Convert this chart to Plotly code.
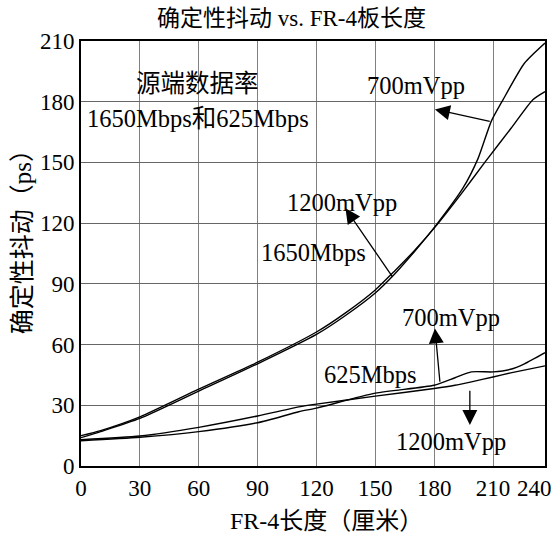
import plotly.graph_objects as go

# Data (FR-4 length in cm, deterministic jitter in ps)
x_1650_700 = [0, 10, 30, 60, 90, 120, 135, 150, 160, 170, 181, 194.8, 202.4, 209.1, 215, 226, 236.5]
y_1650_700 = [14, 17, 23.5, 37, 50.5, 65, 74.5, 85.5, 95, 106, 119, 137.5, 152, 170.3, 180.8, 199, 209]

x_1650_1200 = [0, 10, 30, 60, 90, 120, 135, 150, 160, 170, 181.2, 193.9, 205.8, 219.3, 230.3, 236.5]
y_1650_1200 = [15, 17.5, 24.3, 38, 51.3, 66.2, 75.8, 87, 96.5, 106.5, 118.9, 134.6, 150, 167, 181, 185]

x_625_700 = [0, 30, 60, 90, 111, 120, 150, 180, 190.6, 199, 210, 219, 226, 236.5]
y_625_700 = [12.5, 14.2, 17, 21.4, 26.8, 28.6, 36, 39.9, 43.6, 46.5, 46.5, 47.8, 50.5, 56]

x_625_1200 = [0, 30, 60, 90, 111, 120, 150, 180, 190.6, 199, 210, 219, 236.5]
y_625_1200 = [13, 14.8, 19.1, 24.7, 29.2, 30.6, 34.5, 38.3, 39.9, 41.6, 44, 46, 49.5]

x_ticks = [0, 30, 60, 90, 120, 150, 180, 210]
y_ticks = [0, 30, 60, 90, 120, 150, 180, 210]

FONT = "Liberation Serif, Times New Roman, Noto Sans CJK SC, serif"

fig = go.Figure()
for xs, ys, nm in [(x_1650_700, y_1650_700, "1650Mbps 700mVpp"),
                   (x_1650_1200, y_1650_1200, "1650Mbps 1200mVpp"),
                   (x_625_700, y_625_700, "625Mbps 700mVpp"),
                   (x_625_1200, y_625_1200, "625Mbps 1200mVpp")]:
    fig.add_trace(go.Scatter(x=xs, y=ys, mode="lines", name=nm,
                             line=dict(color="black", width=1.4, shape="spline", smoothing=0.6),
                             showlegend=False, hoverinfo="skip"))

fig.update_layout(
    width=559, height=539,
    margin=dict(l=81, r=12, t=41, b=73),
    paper_bgcolor="white", plot_bgcolor="white",
    font=dict(family=FONT, size=23, color="black"),
    showlegend=False,
)
fig.update_xaxes(range=[0, 236.5], tickvals=x_ticks, ticktext=[str(v) for v in x_ticks],
                 showgrid=True, gridcolor="#808080", gridwidth=1,
                 showline=True, linecolor="black", linewidth=2, mirror=True,
                 ticks="", zeroline=False, tickfont=dict(size=23, family=FONT))
fig.update_yaxes(range=[0, 210], tickvals=y_ticks, ticktext=[str(v) for v in y_ticks],
                 showgrid=True, gridcolor="#666666", gridwidth=1,
                 showline=True, linecolor="black", linewidth=2, mirror=True,
                 ticks="", zeroline=False, tickfont=dict(size=23, family=FONT))

anns = []
def txt(x, y, t, size=24.5, xref="x", yref="y", angle=0):
    anns.append(dict(x=x, y=y, xref=xref, yref=yref, text=t, showarrow=False,
                     font=dict(size=size, family=FONT, color="black"),
                     xanchor="center", yanchor="middle", textangle=angle))

def arrow(hx, hy, tx, ty):
    anns.append(dict(x=hx, y=hy, ax=tx, ay=ty, xref="x", yref="y", axref="x", ayref="y",
                     text="", showarrow=True, arrowhead=2, arrowsize=2.3, arrowwidth=1.3,
                     arrowcolor="black", standoff=0, startstandoff=0))

txt(0.453, 1.054, "确定性抖动 vs. FR-4板长度", size=23, xref="paper", yref="paper")
txt(0.529, -0.129, "FR-4长度（厘米）", size=24, xref="paper", yref="paper")
txt(-0.127, 0.541, "确定性抖动（ps）", size=25, xref="paper", yref="paper", angle=-90)
txt(0.978, -0.054, "240", size=23, xref="paper", yref="paper")

txt(59.4, 189.2, "源端数据率")
txt(59.4, 171.9, "1650Mbps和625Mbps")
txt(132.9, 130.4, "1200mVpp")
txt(118.6, 105.4, "1650Mbps")
txt(171, 188.2, "700mVpp")
txt(188.7, 73.6, "700mVpp")
txt(147.7, 45, "625Mbps")
txt(188.7, 11.9, "1200mVpp")

arrow(134.8, 127.3, 159.3, 92.7)
arrow(180.4, 176.2, 209.1, 170.1)
arrow(180.4, 68, 183, 40.9)
arrow(198.2, 20.3, 198.2, 37.9)

fig.update_layout(annotations=anns)
fig.write_html("out.html", config={"displayModeBar": False},
               post_script="document.body.style.margin='0px';")
